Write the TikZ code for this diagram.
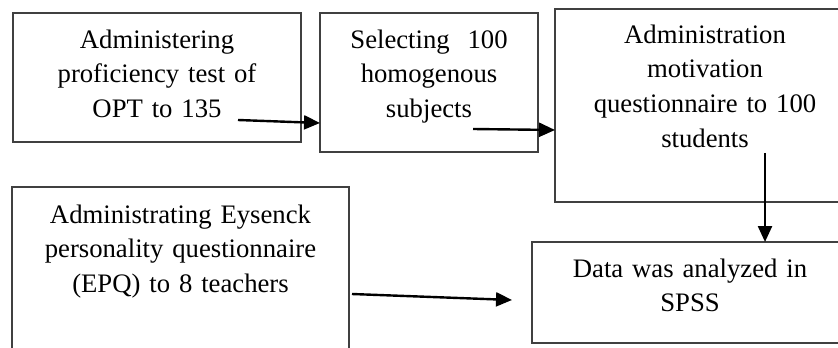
\documentclass[tikz,border=0pt]{standalone}
\usepackage{fontspec}
\setmainfont{Liberation Serif}
\usetikzlibrary{positioning,arrows.meta}

\begin{document}
\begin{tikzpicture}[x=0.5pt, y=-0.5pt,
    nodes = {align = center, inner sep = 0pt, outer sep = 0pt, anchor = north west,
             font = \fontsize{13.35pt}{17.3pt}\selectfont},
    box/.style = {draw = black!75, line width = 0.7pt},
    flow/.style = {-{Triangle[length=8pt, width=7pt]}, line width = 1.2pt}]
    \useasboundingbox (0,0) rectangle (838,347);
    \node (opt) [box, text width=144pt, text height=17.65pt, text depth=46.85pt] at (13,13)
{Administering\\ proficiency test of\\ OPT to 135};
    \node (select) [box, text width=109pt, text height=17.65pt, text depth=51.85pt] at (320,13)
{Selecting~ 100\\ homogenous\\ subjects};
    \node (motiv) [box, text width=150pt, text height=17.15pt, text depth=79.35pt] at (555,9)
{Administration\\ motivation\\ questionnaire to 100\\ students};
    \node (spss) [box, text width=158pt, text height=17.5pt, text depth=33pt] at (532,242)
{Data was analyzed in\\ SPSS};
    \node (epq) [box, text width=168.5pt, text height=18pt, text depth=73.5pt] at (12,187)
{Administrating Eysenck\\ personality questionnaire\\ (EPQ) to 8 teachers};
    \coordinate (optout) at (238,120);
    \coordinate (selectin) at (320,123);
    \coordinate (selectout) at (473,129);
    \coordinate (motivin) at (555,130);
    \coordinate (motivout) at (765,153);
    \coordinate (spssin) at (765,242);
    \coordinate (epqout) at (352,294);
    \coordinate (spssleft) at (512,300);
    \path[flow] (optout) edge (selectin);
    \path[flow] (selectout) edge (motivin);
    \path[flow] (motivout) edge (spssin);
    \path[flow] (epqout) edge (spssleft);
  \end{tikzpicture}
\end{document}
